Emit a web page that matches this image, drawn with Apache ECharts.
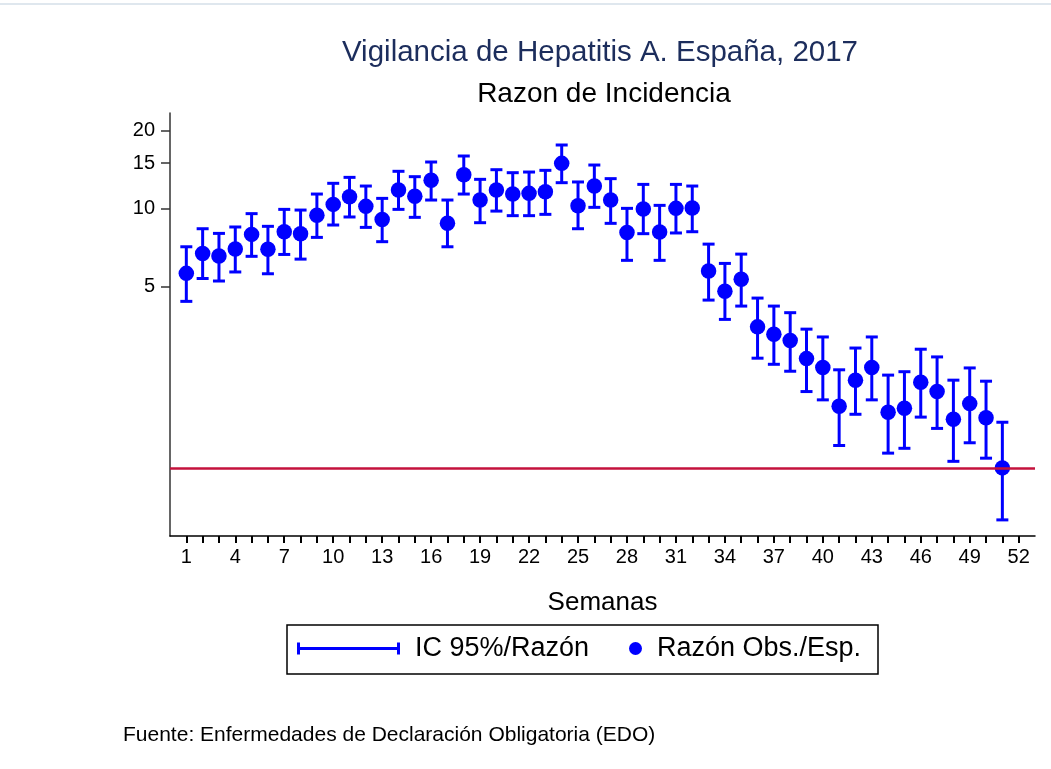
<!DOCTYPE html>
<html>
<head>
<meta charset="utf-8">
<script src="https://cdn.jsdelivr.net/npm/echarts@6/dist/echarts.min.js"></script>
<style>
  html, body { margin: 0; padding: 0; background: #fff; }
  #main { width: 1051px; height: 769px; }
</style>
</head>
<body>
<div id="main"></div>
<script>
// semanas epidemiologicas
const weeks = [];
for (let w = 1; w <= 51; w++) weeks.push(w);

// Razon observados / esperados
const ratio = [5.63, 6.72, 6.57, 6.99, 7.96, 6.97, 8.15, 8.01, 9.43, 10.39,
  11.12, 10.21, 9.09, 11.80, 11.16, 12.87, 8.78, 13.53, 10.80, 11.80,
  11.39, 11.46, 11.63, 14.96, 10.27, 12.23, 10.80, 8.10, 9.97, 8.13,
  10.03, 10.06, 5.75, 4.80, 5.34, 3.50, 3.28, 3.10, 2.64, 2.44,
  1.73, 2.18, 2.44, 1.64, 1.70, 2.14, 1.97, 1.54, 1.77, 1.56, 1.00];
// IC 95% inferior
const lower = [4.39, 5.38, 5.26, 5.70, 6.55, 5.61, 6.66, 6.39, 7.75, 8.65,
  9.29, 8.47, 7.46, 9.94, 9.26, 10.80, 7.13, 11.39, 8.83, 9.79,
  9.40, 9.40, 9.51, 12.60, 8.37, 10.12, 8.78, 6.32, 8.01, 6.32,
  8.06, 8.15, 4.44, 3.74, 4.21, 2.65, 2.51, 2.36, 1.97, 1.83,
  1.22, 1.61, 1.83, 1.14, 1.19, 1.57, 1.42, 1.06, 1.25, 1.09, 0.63];
// IC 95% superior
const upper = [7.13, 8.37, 8.03, 8.50, 9.57, 8.55, 9.94, 9.88, 11.39, 12.53,
  13.21, 12.23, 10.96, 13.94, 13.29, 15.14, 10.80, 15.97, 12.98, 14.14,
  13.77, 13.85, 14.06, 17.61, 12.68, 14.74, 13.06, 10.03, 12.41, 10.30,
  12.41, 12.23, 7.30, 6.15, 6.68, 4.52, 4.21, 3.97, 3.43, 3.20,
  2.39, 2.90, 3.20, 2.28, 2.35, 2.87, 2.68, 2.18, 2.43, 2.16, 1.50];

const xTicks = [];
for (let w = 1; w <= 52; w++) xTicks.push(w);
const xLabels = [1, 4, 7, 10, 13, 16, 19, 22, 25, 28, 31, 34, 37, 40, 43, 46, 49, 52];
const yLabels = [5, 10, 15, 20];
const refLine = 1;

const FONT = 'Liberation Sans, Arial, sans-serif';
const BLUE = '#0000ff';

const ciData = weeks.map((w, i) => [w, lower[i], upper[i]]);
const ptData = weeks.map((w, i) => [w, ratio[i]]);

const barIcon = 'path://M0,0H3V12H0Z M3,4.5H100V7.5H3Z M100,0H103V12H100Z';

const myChart = echarts.init(document.getElementById('main'));
const option = {
  backgroundColor: '#fff',
  animation: false,
  textStyle: { fontFamily: FONT },
  grid: { left: 170, right: 16, top: 113, bottom: 233 },
  xAxis: {
    type: 'value',
    min: 0,
    max: 53,
    interval: 1,
    name: 'Semanas',
    nameLocation: 'middle',
    nameGap: 54,
    nameTextStyle: { fontSize: 26, color: '#000', fontFamily: FONT },
    splitLine: { show: false },
    axisLine: { lineStyle: { color: '#000', width: 1.5 } },
    axisTick: { customValues: xTicks, length: 7, lineStyle: { color: '#000', width: 2 } },
    axisLabel: { customValues: xLabels, fontSize: 20, color: '#000', margin: 11, fontFamily: FONT }
  },
  yAxis: {
    type: 'log',
    logBase: 10,
    min: 0.546,
    max: 23.4,
    splitLine: { show: false },
    axisLine: { show: true, lineStyle: { color: '#333', width: 1.5 } },
    axisTick: { show: true, customValues: yLabels, length: 9, lineStyle: { color: '#333', width: 1.5 } },
    axisLabel: { customValues: yLabels, fontSize: 20, color: '#000', margin: 15, fontFamily: FONT }
  },
  legend: [
    {
      left: 297, top: 635, padding: 0,
      selectedMode: false,
      itemWidth: 103, itemHeight: 12,
      textStyle: { fontSize: 27, color: '#000', fontFamily: FONT, padding: [0, 0, 0, 10] },
      data: [{ name: 'IC 95%/Razón', icon: barIcon, itemStyle: { color: BLUE } }]
    },
    {
      left: 629, top: 635, padding: 0,
      selectedMode: false,
      itemWidth: 13, itemHeight: 13,
      textStyle: { fontSize: 27, color: '#000', fontFamily: FONT, padding: [0, 0, 0, 10] },
      data: [{ name: 'Razón Obs./Esp.', icon: 'circle', itemStyle: { color: BLUE } }]
    }
  ],
  graphic: [
    { type: 'line', shape: { x1: 0, y1: 4, x2: 1051, y2: 4 }, style: { stroke: '#dfe7ee', lineWidth: 2 }, silent: true },
    { type: 'text', x: 600, y: 53, style: { text: 'Vigilancia de Hepatitis A. España, 2017', fill: '#1c2d5c', font: '29.5px ' + FONT, textAlign: 'center', textVerticalAlign: 'middle' } },
    { type: 'text', x: 604, y: 94, style: { text: 'Razon de Incidencia', fill: '#000', font: '28px ' + FONT, textAlign: 'center', textVerticalAlign: 'middle' } },
    { type: 'rect', shape: { x: 287, y: 625, width: 591, height: 49 }, style: { fill: 'none', stroke: '#000', lineWidth: 1.5 }, silent: true },
    { type: 'text', x: 123, y: 735, style: { text: 'Fuente: Enfermedades de Declaración Obligatoria (EDO)', fill: '#000', font: '21px ' + FONT, textAlign: 'left', textVerticalAlign: 'middle' } }
  ],
  series: [
    {
      name: 'IC 95%/Razón',
      type: 'custom',
      color: BLUE,
      data: ciData,
      encode: { x: 0, y: [1, 2] },
      renderItem: function (params, api) {
        const x = api.value(0);
        const lo = api.coord([x, api.value(1)]);
        const hi = api.coord([x, api.value(2)]);
        const hw = 6;
        const st = { stroke: BLUE, lineWidth: 3 };
        return {
          type: 'group',
          children: [
            { type: 'line', shape: { x1: lo[0], y1: lo[1], x2: hi[0], y2: hi[1] }, style: st },
            { type: 'line', shape: { x1: lo[0] - hw, y1: lo[1], x2: lo[0] + hw, y2: lo[1] }, style: st },
            { type: 'line', shape: { x1: hi[0] - hw, y1: hi[1], x2: hi[0] + hw, y2: hi[1] }, style: st }
          ]
        };
      },
      markLine: {
        silent: true,
        symbol: 'none',
        label: { show: false },
        lineStyle: { color: '#c4123c', width: 2.5, type: 'solid' },
        data: [{ yAxis: refLine }]
      },
      z: 2
    },
    {
      name: 'Razón Obs./Esp.',
      type: 'scatter',
      data: ptData,
      symbol: 'circle',
      symbolSize: 15.5,
      itemStyle: { color: BLUE, opacity: 1 },
      z: 3
    }
  ]
};
myChart.setOption(option);
</script>
</body>
</html>
